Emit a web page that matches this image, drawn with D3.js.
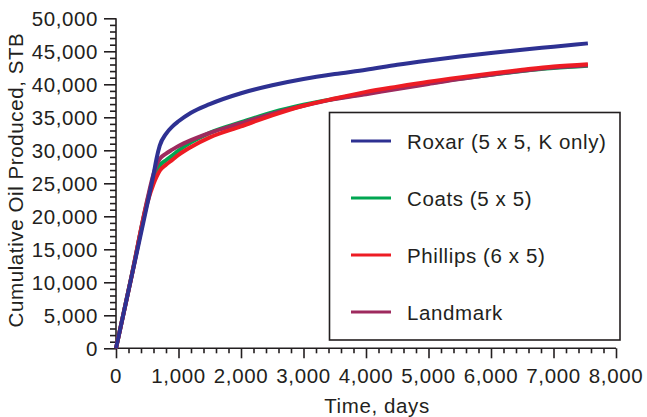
<!DOCTYPE html>
<html><head><meta charset="utf-8">
<script src="https://cdn.jsdelivr.net/npm/d3@7"></script>
<style>
body{margin:0;background:#fff;}
text{font-family:"Liberation Sans",Arial,Helvetica,sans-serif;fill:#231f20;letter-spacing:0.6px;}
</style></head>
<body><svg id="c" width="647" height="417"></svg>
<script>
const days = [0,250,500,600,650,700,800,900,1000,1200,1500,2000,2500,3000,3500,4000,4500,5000,5500,6000,6500,7000,7550];
const roxar    = [0,10900,21800,26300,28800,30700,32500,33600,34400,35700,37000,38650,39850,40800,41550,42200,42950,43600,44200,44750,45250,45700,46200];
const coats    = [0,11000,22300,25800,26900,27700,28500,29200,29950,31200,32650,34250,35750,36900,37800,38600,39400,40150,40850,41450,42000,42450,42800];
const phillips = [0,10900,22000,24900,26000,26900,27800,28550,29300,30500,31950,33620,35300,36750,37850,38850,39650,40400,41050,41650,42200,42700,43050];
const landmark = [0,11000,22500,26400,27800,28700,29500,30100,30650,31550,32650,34100,35550,36750,37750,38500,39300,40050,40800,41450,42050,42550,42900];
const seriesNames = ["Roxar (5 x 5, K only)","Coats (5 x 5)","Phillips (6 x 5)","Landmark"];
const seriesColors = ["#2e3192","#00a651","#ed1c24","#9e2a5e"];
const xTicks = [0,1000,2000,3000,4000,5000,6000,7000,8000];
const yTicks = [0,5000,10000,15000,20000,25000,30000,35000,40000,45000,50000];
const xTitle = "Time, days";
const yTitle = "Cumulative Oil Produced, STB";

const svg = d3.select("#c");
const x = d3.scaleLinear().domain([0,8000]).range([116,616]);
const y = d3.scaleLinear().domain([0,50000]).range([348.3,18.3]);
const fmt = d3.format(",");
const axisColor = "#231f20";
const fs = 20.5;

// axes
const gx = svg.append("g").attr("transform","translate(0,"+y(0)+")");
gx.call(d3.axisBottom(x).tickValues(d3.range(0,8001,200)).tickSize(5).tickFormat(""));
gx.selectAll(".tick line").filter(d=>d%1000===0).attr("y2",10);
gx.select(".domain").attr("d","M"+x(0)+",0H"+x(8000));
gx.selectAll("line,path").attr("stroke",axisColor).attr("stroke-width",1.6);
svg.append("g").selectAll("text").data(xTicks).join("text")
  .attr("x",d=>x(d)).attr("y",383).attr("text-anchor","middle")
  .attr("font-size",fs).text(d=>fmt(d));

const gy = svg.append("g").attr("transform","translate("+x(0)+",0)");
gy.call(d3.axisLeft(y).tickValues(d3.range(0,50001,1000)).tickSize(6).tickFormat(""));
gy.selectAll(".tick line").filter(d=>d%5000===0).attr("x2",-12);
gy.select(".domain").attr("d","M0,"+y(0)+"V"+y(50000));
gy.selectAll("line,path").attr("stroke",axisColor).attr("stroke-width",1.6);
svg.append("g").selectAll("text").data(yTicks).join("text")
  .attr("x",98).attr("y",d=>y(d)+7.5).attr("text-anchor","end")
  .attr("font-size",fs).text(d=>fmt(d));

svg.append("text").attr("x",377).attr("y",413).attr("text-anchor","middle")
  .attr("font-size",fs).text(xTitle);
svg.append("text").attr("transform","translate(23,180) rotate(-90)").attr("text-anchor","middle")
  .attr("font-size",fs).text(yTitle);

// lines
const allSeries = [roxar,coats,phillips,landmark];
const line = d3.line().x((d,i)=>x(days[i])).y(d=>y(d)).curve(d3.curveMonotoneX);
const order = [1,3,2,0];
order.forEach(k=>{
  svg.append("path").attr("d",line(allSeries[k])).attr("fill","none")
    .attr("stroke",seriesColors[k]).attr("stroke-width",4).attr("stroke-linejoin","round").attr("stroke-linecap","butt");
});

// legend
svg.append("rect").attr("x",329.5).attr("y",112.5).attr("width",290.5).attr("height",227.5)
  .attr("fill","#fff").attr("stroke",axisColor).attr("stroke-width",1.6);
const ly = [141,198,255,312];
seriesNames.forEach((n,i)=>{
  svg.append("line").attr("x1",351).attr("x2",391).attr("y1",ly[i]).attr("y2",ly[i])
    .attr("stroke",seriesColors[i]).attr("stroke-width",3);
  svg.append("text").attr("x",407).attr("y",ly[i]+7.5).attr("font-size",fs).text(n);
});
</script></body></html>
